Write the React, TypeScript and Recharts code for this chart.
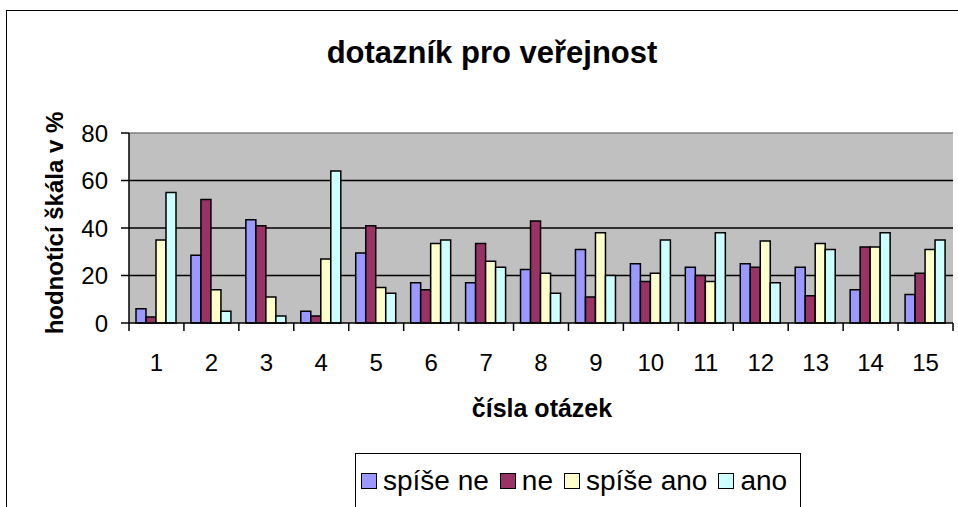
import { Bar, BarChart, CartesianGrid, ReferenceLine, XAxis, YAxis } from "recharts";

const questions = ["1", "2", "3", "4", "5", "6", "7", "8", "9", "10", "11", "12", "13", "14", "15"];
const spiseNe = [6, 28.5, 43.5, 5, 29.5, 17, 17, 22.5, 31, 25, 23.5, 25, 23.5, 14, 12];
const ne = [2.5, 52, 41, 3, 41, 14, 33.5, 43, 11, 17.5, 20, 23.5, 11.5, 32, 21];
const spiseAno = [35, 14, 11, 27, 15, 33.5, 26, 21, 38, 21, 17.5, 34.5, 33.5, 32, 31];
const ano = [55, 5, 3, 64, 12.5, 35, 23.5, 12.5, 20, 35, 38, 17, 31, 38, 35];
const yTicks = [0, 20, 40, 60, 80];

const series = [
  { key: "spiseNe", name: "spíše ne", color: "#9999FF" },
  { key: "ne", name: "ne", color: "#993366" },
  { key: "spiseAno", name: "spíše ano", color: "#FFFFCC" },
  { key: "ano", name: "ano", color: "#CCFFFF" },
];

const data = questions.map((q, i) => ({
  q,
  spiseNe: spiseNe[i],
  ne: ne[i],
  spiseAno: spiseAno[i],
  ano: ano[i],
}));

const W = 958;
const H = 507;
const PLOT_LEFT = 129;
const PLOT_RIGHT = 953;
const FONT = "'Liberation Sans', Arial, sans-serif";
const band = (PLOT_RIGHT - PLOT_LEFT) / questions.length;

// excel puts the x tick marks between categories, not under them
function XTick(props: any) {
  const { x, y, payload, index } = props;
  const last = index === questions.length - 1;
  return (
    <g>
      <line x1={x - band / 2} x2={x - band / 2} y1={y - 8} y2={y} stroke="#000" strokeWidth={1.5} />
      {last && <line x1={x + band / 2} x2={x + band / 2} y1={y - 8} y2={y} stroke="#000" strokeWidth={1.5} />}
      <text x={x} y={y + 40} textAnchor="middle" fontSize={24} fontFamily={FONT} fill="#000">
        {payload.value}
      </text>
    </g>
  );
}

export default function App() {
  return (
    <div style={{ position: "absolute", left: 0, top: 0, width: W, height: H, overflow: "hidden", background: "#fff", fontFamily: FONT }}>
      <div
        style={{
          position: "absolute",
          left: 6,
          top: 10,
          width: 1100,
          height: 700,
          border: "1.5px solid #000",
        }}
      />
      <div
        style={{
          position: "absolute",
          left: 0,
          width: 984,
          top: 35,
          textAlign: "center",
          fontSize: 31,
          fontWeight: "bold",
        }}
      >
        dotazník pro veřejnost
      </div>
      <div
        style={{
          position: "absolute",
          left: 55,
          top: 223,
          transform: "translate(-50%, -50%) rotate(-90deg)",
          whiteSpace: "nowrap",
          fontSize: 24,
          fontWeight: "bold",
        }}
      >
        hodnotící škála v %
      </div>
      <div
        style={{
          position: "absolute",
          left: 542,
          top: 408,
          transform: "translate(-50%, -50%)",
          whiteSpace: "nowrap",
          fontSize: 25,
          fontWeight: "bold",
        }}
      >
        čísla otázek
      </div>
      <div style={{ position: "absolute", left: 0, top: 0 }}>
        <BarChart
          width={W}
          height={H}
          data={data}
          margin={{ top: 133, right: W - PLOT_RIGHT, left: PLOT_LEFT - 60, bottom: H - 323 - 50 }}
          barGap={0}
          barSize={10}
        >
          <CartesianGrid
            vertical={false}
            horizontalValues={[20, 40, 60]}
            stroke="#000"
            strokeWidth={1.5}
            fill="#C0C0C0"
            fillOpacity={1}
          />
          <ReferenceLine y={80} stroke="#808080" strokeWidth={1.5} />
          <XAxis
            dataKey="q"
            height={50}
            interval={0}
            tickLine={false}
            tick={<XTick />}
            axisLine={{ stroke: "#000", strokeWidth: 1.5 }}
          />
          <YAxis
            width={60}
            domain={[0, 80]}
            ticks={yTicks}
            tickSize={8}
            tickMargin={13}
            axisLine={{ stroke: "#000", strokeWidth: 1.5 }}
            tickLine={{ stroke: "#000", strokeWidth: 1.5 }}
            tick={{ fill: "#000", fontSize: 24, fontFamily: FONT }}
          />
          {series.map((s) => (
            <Bar
              key={s.key}
              dataKey={s.key}
              name={s.name}
              fill={s.color}
              stroke="#000"
              strokeWidth={1.5}
              isAnimationActive={false}
            />
          ))}
        </BarChart>
      </div>
      <div
        style={{
          position: "absolute",
          left: 355,
          top: 453,
          width: 446,
          height: 80,
          border: "1.5px solid #000",
          boxSizing: "border-box",
          background: "#fff",
        }}
      >
        <div style={{ display: "flex", alignItems: "center", paddingLeft: 5, marginTop: 11, fontSize: 28, whiteSpace: "nowrap" }}>
          {series.map((s) => (
            <span key={s.key} style={{ display: "inline-flex", alignItems: "center", marginRight: 11 }}>
              <span
                style={{
                  display: "inline-block",
                  width: 14,
                  height: 14,
                  background: s.color,
                  border: "1.5px solid #000",
                  marginRight: 6,
                }}
              />
              {s.name}
            </span>
          ))}
        </div>
      </div>
    </div>
  );
}
